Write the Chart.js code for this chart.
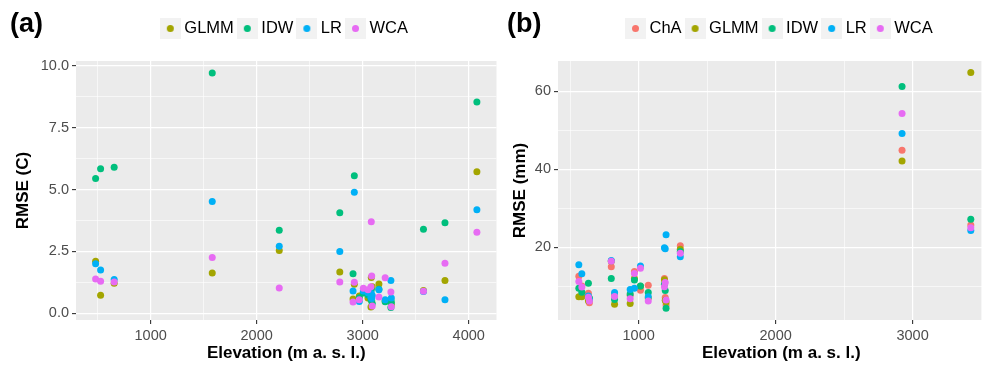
<!DOCTYPE html>
<html>
<head>
<meta charset="utf-8">
<script src="https://cdn.jsdelivr.net/npm/chart.js@4.4.1/dist/chart.umd.min.js"></script>
<style>
    html, body { margin: 0; padding: 0; background: #fff; overflow: hidden; width: 982px; height: 367px; }
    .panel { position: absolute; top: 0; height: 367px; }
    .panel canvas { display: block; }
    #panelA { left: 0; width: 500px; }
    #panelB { left: 500px; width: 508px; }
    .tag { position: absolute; top: 10px; font: bold 27px "Liberation Sans", Arial, sans-serif; line-height: 1; color: #000; }
</style>
</head>
<body>
<div class="panel" id="panelA"><canvas id="chartA" width="500" height="367"></canvas></div>
<div class="panel" id="panelB"><canvas id="chartB" width="508" height="367"></canvas></div>
<div class="tag" style="left:10px">(a)</div>
<div class="tag" style="left:507px">(b)</div>

<script>
// (a) temperature RMSE per station, by elevation
const elevA = [481, 528, 656, 1581, 2213, 2784, 2909, 2921, 2968, 3006, 3050, 3078, 3081, 3085, 3090, 3153, 3212, 3266, 3270, 3573, 3776, 4077];
const glmmA = [2.10, 0.73, 1.21, 1.63, 2.54, 1.67, 0.58, 1.17, 0.70, 0.85, 0.62, 0.25, 1.45, 0.51, 1.07, 1.18, 0.50, 0.54, 0.35, 0.92, 1.33, 5.72];
const idwA  = [5.44, 5.84, 5.90, 9.71, 3.35, 4.06, 1.60, 5.56, 0.63, 0.82, 0.74, 0.55, 0.95, 0.69, 0.40, 0.97, 0.47, 0.23, 0.45, 3.39, 3.66, 8.53];
const lrA   = [2.00, 1.75, 1.37, 4.52, 2.71, 2.50, 0.90, 4.89, 0.48, 0.90, 0.83, 0.65, 0.80, 0.60, 0.72, 0.95, 0.55, 1.33, 0.62, 0.88, 0.55, 4.18];
const wcaA  = [1.39, 1.30, 1.26, 2.25, 1.02, 1.26, 0.46, 1.25, 0.55, 1.01, 0.95, 1.07, 3.70, 1.51, 0.30, 0.66, 1.44, 0.86, 0.27, 0.89, 2.02, 3.27];

// (b) precipitation RMSE per station, by elevation
const elevB = [563, 585, 633, 640, 800, 824, 938, 969, 1013, 1070, 1188, 1194, 1200, 1304, 2923, 3425];
const chaB  = [12.6, 10.1, 8.2, 5.8, 15.0, 7.8, 7.7, 13.8, 9.0, 10.3, 12.0, 7.1, 5.2, 20.4, 44.9, 25.7];
const glmmB = [7.3, 7.3, 6.3, 6.8, 16.4, 5.4, 5.6, 12.0, 10.0, 7.0, 11.7, 6.4, 6.0, 19.5, 42.1, 64.8];
const idwB  = [9.5, 8.5, 10.8, 7.0, 12.0, 6.6, 8.0, 11.6, 10.1, 8.4, 10.5, 8.9, 4.4, 18.9, 61.2, 27.2];
const lrB   = [15.5, 13.2, 7.5, 6.6, 16.6, 8.4, 9.2, 9.5, 15.2, 7.3, 19.9, 19.6, 23.2, 17.6, 49.2, 24.3];
const wcaB  = [11.2, 9.8, 7.2, 6.2, 16.4, 7.4, 6.8, 13.3, 14.6, 6.2, 9.9, 11.0, 6.5, 18.5, 54.3, 25.0];

// labelled breaks
const xTicksA = [1000, 2000, 3000, 4000];
const yTicksA = [0, 2.5, 5, 7.5, 10];
const xTicksB = [1000, 2000, 3000];
const yTicksB = [20, 40, 60];

const COLORS = { ChA: '#F8766D', GLMM: '#A3A500', IDW: '#00BF7D', LR: '#00B0F6', WCA: '#E76BF3' };
const DOT = 3.5;

Chart.defaults.font.family = '"Liberation Sans", Arial, sans-serif';

// grey panel behind the grid, like theme_gray
const panelBackground = {
    id: 'panelBackground',
    beforeDraw(chart) {
        const { ctx, chartArea: a } = chart;
        ctx.save();
        ctx.fillStyle = '#EBEBEB';
        ctx.fillRect(a.left, a.top, a.right - a.left, a.bottom - a.top);
        ctx.restore();
    }
};

// legend key: dot on a light grey square
const keyCache = {};
function legendKey(color) {
    if (keyCache[color]) return keyCache[color];
    const c = document.createElement('canvas');
    c.width = 21;
    c.height = 21;
    const g = c.getContext('2d');
    g.fillStyle = '#F2F2F2';
    g.fillRect(0, 0, 21, 21);
    g.fillStyle = color;
    g.beginPath();
    g.arc(10.5, 10.5, DOT, 0, Math.PI * 2);
    g.fill();
    keyCache[color] = c;
    return c;
}

// minor breaks sit halfway between the labelled ones
function withMinors(majors, min, max) {
    const half = (majors[1] - majors[0]) / 2;
    const out = [];
    for (let v = majors[0] - half; v <= max + 1e-9; v += half) {
        if (v >= min) out.push(+v.toFixed(4));
    }
    return out;
}

function axis(min, max, majors, fmt, title, size, titlePad) {
    const isMajor = v => majors.some(m => Math.abs(m - v) < 1e-6);
    const vertical = title.startsWith('RMSE');
    return {
        type: 'linear',
        min: min,
        max: max,
        afterBuildTicks: s => { s.ticks = withMinors(majors, min, max).map(v => ({ value: v })); },
        afterFit: s => { if (vertical) s.width = size; else s.height = size; },
        border: { display: false },
        grid: {
            color: '#FFFFFF',
            lineWidth: c => (c.tick && isMajor(c.tick.value)) ? 1.2 : 0.6,
            tickColor: c => (c.tick && isMajor(c.tick.value)) ? '#333333' : 'rgba(0,0,0,0)',
            tickLength: 4,
            tickWidth: 1.1
        },
        ticks: {
            autoSkip: false,
            maxRotation: 0,
            padding: 3,
            color: '#4D4D4D',
            font: { size: 14.5 },
            callback: v => isMajor(v) ? fmt(v) : ''
        },
        title: {
            display: true,
            text: title,
            color: '#000',
            font: { size: 17, weight: 'bold' },
            padding: titlePad
        }
    };
}

function series(label, xs, ys, i, n) {
    return {
        label: label,
        data: xs.map((x, k) => ({ x: x, y: ys[k] })),
        backgroundColor: COLORS[label],
        pointRadius: DOT,
        pointHoverRadius: DOT,
        pointBorderWidth: 0,
        order: n - i   // later methods are drawn on top
    };
}

function makePanel(canvasId, datasets, scales, padRight) {
    return new Chart(document.getElementById(canvasId), {
        type: 'scatter',
        data: { datasets: datasets },
        options: {
            responsive: false,
            animation: false,
            devicePixelRatio: 1,
            events: [],
            layout: { padding: { top: 12.5, left: 0, right: padRight, bottom: 0 } },
            scales: scales,
            plugins: {
                tooltip: { enabled: false },
                legend: {
                    position: 'top',
                    fullSize: false,
                    align: 'center',
                    labels: {
                        usePointStyle: true,
                        pointStyleWidth: 11.5,
                        boxWidth: 11.5,
                        padding: 7.75,
                        color: '#000',
                        font: { size: 16.5 },
                        generateLabels: chart => chart.data.datasets.map((ds, i) => ({
                            text: ds.label,
                            pointStyle: legendKey(ds.backgroundColor),
                            fillStyle: ds.backgroundColor,
                            strokeStyle: 'rgba(0,0,0,0)',
                            lineWidth: 0,
                            hidden: false,
                            datasetIndex: i,
                            fontColor: '#000'
                        }))
                    }
                },
                // empty spacer between legend and panel
                subtitle: {
                    display: true,
                    text: '',
                    weight: 500,
                    fullSize: false,
                    font: { size: 1, lineHeight: 1 },
                    padding: { top: 0, bottom: 13.25 }
                }
            }
        },
        plugins: [panelBackground]
    });
}

const oneDecimal = v => v.toFixed(1);
const plain = v => String(v);

makePanel('chartA', [
    series('GLMM', elevA, glmmA, 0, 4),
    series('IDW', elevA, idwA, 1, 4),
    series('LR', elevA, lrA, 2, 4),
    series('WCA', elevA, wcaA, 3, 4)
], {
    x: axis(296, 4262, xTicksA, plain, 'Elevation (m a. s. l.)', 47, { top: 0, bottom: 3.3 }),
    y: axis(-0.27, 10.19, yTicksA, oneDecimal, 'RMSE (C)', 76, { top: 13, bottom: 0 })
}, 2);

makePanel('chartB', [
    series('ChA', elevB, chaB, 0, 5),
    series('GLMM', elevB, glmmB, 1, 5),
    series('IDW', elevB, idwB, 2, 5),
    series('LR', elevB, lrB, 3, 5),
    series('WCA', elevB, wcaB, 4, 5)
], {
    x: axis(411, 3671, xTicksB, plain, 'Elevation (m a. s. l.)', 47, { top: 0, bottom: 3.3 }),
    y: axis(1.36, 67.77, yTicksB, plain, 'RMSE (mm)', 58, { top: 10, bottom: 0 })
}, 0);
</script>
</body>
</html>
